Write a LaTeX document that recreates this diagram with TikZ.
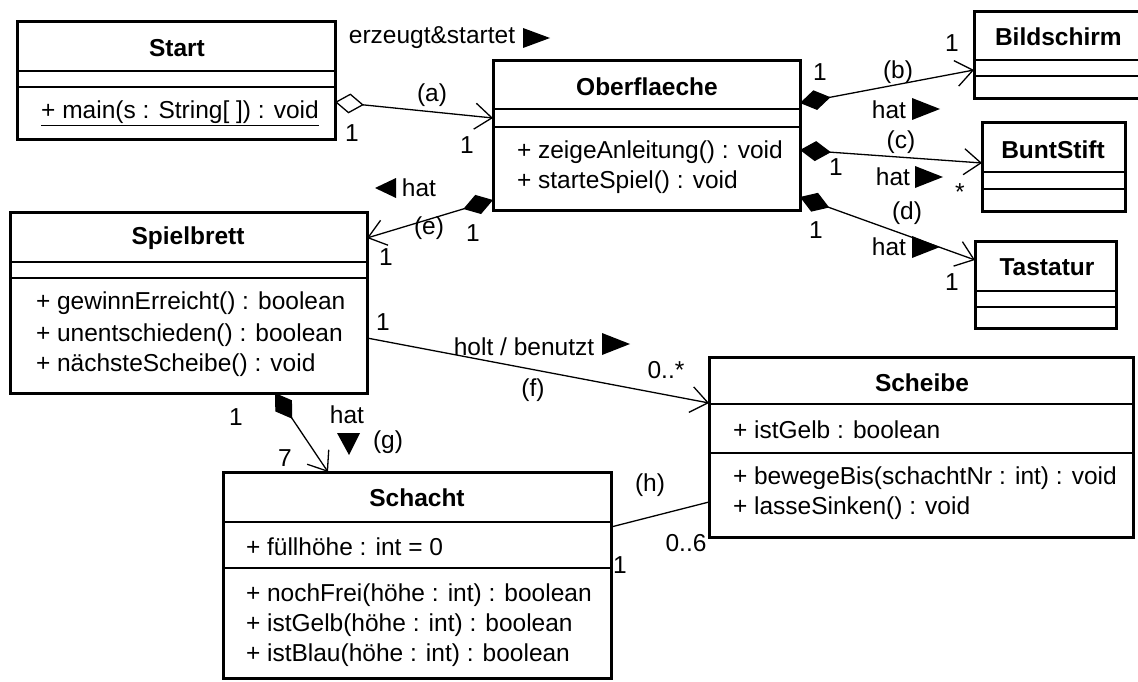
\documentclass[tikz,border=0pt]{standalone}
\usepackage{fontspec}
\setmainfont{Liberation Sans}
\usetikzlibrary{arrows.meta,calc}
\begin{document}
\begin{tikzpicture}[x=1pt,y=-1pt,
  every node/.style={font=\fontsize{24.5}{28}\selectfont, inner sep=0pt, outer sep=0pt},
  cls/.style={draw, line width=3pt, anchor=north west, rectangle},
  sepl/.style={line width=1.6pt},
  ttl/.style={font=\bfseries\fontsize{24.5}{28}\selectfont},
  mem/.style={anchor=west},
  conn/.style={line width=1.3pt},
  opena/.style={-{Straight Barb[length=17pt,width=26pt]}},
  comp/.style={{Diamond[length=31pt,width=20pt]}-{Straight Barb[length=17pt,width=26pt]}},
  aggr/.style={{Diamond[open,fill=white,length=29pt,width=20pt]}-{Straight Barb[length=17pt,width=26pt]}},
  dirtri/.style={fill=black}
]
\useasboundingbox (0,0) rectangle (1138,682);
\clip (0,0) rectangle (1138,682);
\fill[white] (0,0) rectangle (1138,682);

% ---------- classes ----------
\node[cls, minimum width=318pt, minimum height=118pt] (start) at (17,22) {};
\draw[sepl] (start.west |- 0,71) -- (start.east |- 0,71);
\draw[sepl] (start.west |- 0,87) -- (start.east |- 0,87);
\node[ttl] (startT) at (177,48) {Start};
\node (startM) at (180,113) {\underline{+ main(s : String[ ]) : void}};

\node[cls, minimum width=307pt, minimum height=149pt] (ober) at (493,61) {};
\draw[sepl] (ober.west |- 0,109) -- (ober.east |- 0,109);
\draw[sepl] (ober.west |- 0,127) -- (ober.east |- 0,127);
\node[ttl] (oberT) at (647,87) {Oberflaeche};
\node[mem] (oberM1) at (517,152) {+ zeigeAnleitung() : void};
\node[mem] (oberM2) at (517,182) {+ starteSpiel() : void};

\node[cls, minimum width=200pt, minimum height=87pt] (bild) at (974,12) {};
\draw[sepl] (bild.west |- 0,60) -- (bild.east |- 0,60);
\draw[sepl] (bild.west |- 0,76) -- (bild.east |- 0,76);
\node[ttl, anchor=west] (bildT) at (995,37) {Bildschirm};

\node[cls, minimum width=143pt, minimum height=88pt] (bunt) at (982,123) {};
\draw[sepl] (bunt.west |- 0,172) -- (bunt.east |- 0,172);
\draw[sepl] (bunt.west |- 0,189) -- (bunt.east |- 0,189);
\node[ttl] (buntT) at (1053,150) {BuntStift};

\node[cls, minimum width=141pt, minimum height=87pt] (tast) at (975,241) {};
\draw[sepl] (tast.west |- 0,291) -- (tast.east |- 0,291);
\draw[sepl] (tast.west |- 0,307) -- (tast.east |- 0,307);
\node[ttl] (tastT) at (1047,267) {Tastatur};

\node[cls, minimum width=357pt, minimum height=181pt] (spiel) at (10,212) {};
\draw[sepl] (spiel.west |- 0,262) -- (spiel.east |- 0,262);
\draw[sepl] (spiel.west |- 0,278) -- (spiel.east |- 0,278);
\node[ttl] (spielT) at (188,238) {Spielbrett};
\node[mem] (spielM1) at (36,303) {+ gewinnErreicht() : boolean};
\node[mem] (spielM2) at (36,335) {+ unentschieden() : boolean};
\node[mem] (spielM3) at (36,365) {+ nächsteScheibe() : void};

\node[cls, minimum width=388pt, minimum height=206pt] (schacht) at (223,472) {};
\draw[sepl] (schacht.west |- 0,522) -- (schacht.east |- 0,522);
\draw[sepl] (schacht.west |- 0,568) -- (schacht.east |- 0,568);
\node[ttl] (schachtT) at (417,498) {Schacht};
\node[mem] (schachtA) at (246,547) {+ füllhöhe : int = 0};
\node[mem] (schachtM1) at (246,595) {+ nochFrei(höhe : int) : boolean};
\node[mem] (schachtM2) at (246,625) {+ istGelb(höhe : int) : boolean};
\node[mem] (schachtM3) at (246,655) {+ istBlau(höhe : int) : boolean};

\node[cls, minimum width=424pt, minimum height=180pt] (scheibe) at (709,357) {};
\draw[sepl] (scheibe.west |- 0,404) -- (scheibe.east |- 0,404);
\draw[sepl] (scheibe.west |- 0,453) -- (scheibe.east |- 0,453);
\node[ttl] (scheibeT) at (922,383) {Scheibe};
\node[mem] (scheibeA) at (733,430) {+ istGelb : boolean};
\node[mem] (scheibeM1) at (733,478) {+ bewegeBis(schachtNr : int) : void};
\node[mem] (scheibeM2) at (733,508) {+ lasseSinken() : void};

% ---------- connectors ----------
\draw[conn, aggr] (start.east |- 0,102) -- (ober.west |- 0,118);
\draw[conn, comp] (ober.east |- 0,103) -- (bild.west |- 0,70);
\draw[conn, comp] (ober.east |- 0,150) -- (bunt.west |- 0,163);
\draw[conn, comp] (ober.east |- 0,197) -- (tast.west |- 0,260);
\draw[conn, comp] (ober.west |- 0,200) -- (spiel.east |- 0,238);
\draw[conn, opena] (spiel.east |- 0,338) -- (scheibe.west |- 0,403);
\draw[conn, comp] (spiel.south -| 275,0) -- (schacht.north -| 328,0);
\draw[conn] (schacht.east |- 0,527) -- (scheibe.west |- 0,502);

% ---------- reading-direction triangles ----------
\fill[dirtri] (523,28) -- (550,38) -- (523,48) -- cycle;
\fill[dirtri] (375,188) -- (396,178) -- (396,198) -- cycle;
\fill[dirtri] (912,98) -- (940,109) -- (912,120) -- cycle;
\fill[dirtri] (915,166) -- (943,177) -- (915,188) -- cycle;
\fill[dirtri] (912,236) -- (940,247) -- (912,258) -- cycle;
\fill[dirtri] (602,333) -- (630,344) -- (602,355) -- cycle;
\fill[dirtri] (337,433) -- (360,433) -- (349,455) -- cycle;

% ---------- labels ----------
\node (lerz) at (432,38) {erzeugt\&startet};
\node (lhate) at (419,188) {hat};
\node (lhatb) at (889,110) {hat};
\node (lhatc) at (893,177) {hat};
\node (lhatd) at (889,247) {hat};
\node (lholt) at (524,347) {holt / benutzt};
\node (lhatg) at (347,415) {hat};

\node (la) at (432,95) {(a)};
\node (la1) at (352,133) {1};
\node (la2) at (467,145) {1};

\node (lb) at (898,72) {(b)};
\node (lb1) at (820,72) {1};
\node (lb2) at (952,43) {1};

\node (lc) at (901,142) {(c)};
\node (lc1) at (836,167) {1};
\node (lc2) at (960,192) {*};

\node (ld) at (907,213) {(d)};
\node (ld1) at (816,230) {1};
\node (ld2) at (952,282) {1};

\node (le) at (429,228) {(e)};
\node (le1) at (473,233) {1};
\node (le2) at (386,257) {1};

\node (lf) at (533,390) {(f)};
\node (lf1) at (383,322) {1};
\node (lf2) at (666,370) {0..*};

\node (lg) at (388,442) {(g)};
\node (lg1) at (236,417) {1};
\node (lg2) at (285,458) {7};

\node (lh) at (650,485) {(h)};
\node (lh1) at (686,543) {0..6};
\node (lh2) at (620,565) {1};
\end{tikzpicture}
\end{document}
